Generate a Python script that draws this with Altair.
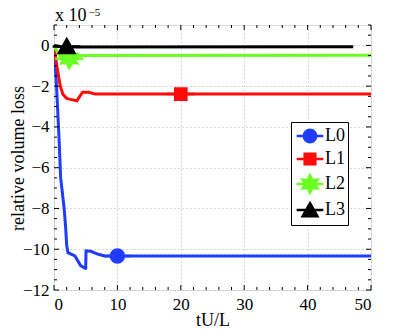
import math
import altair as alt
import pandas as pd

# ---- data ----
t_L0 = [0, 0.4, 0.8, 1.05, 1.6, 1.85, 2.0, 2.2, 3.3, 4.2, 4.9, 5.0, 5.05, 5.8, 7, 8, 50]
y_L0 = [0, -2.0, -4.6, -6.5, -8.0, -9.0, -9.8, -10.17, -10.33, -10.8, -10.93, -10.93, -10.08, -10.1, -10.25, -10.33, -10.33]

t_L1 = [0, 0.3, 0.6, 1.0, 1.4, 2.0, 2.6, 3.6, 4.5, 5.5, 6.5, 50]
y_L1 = [0, -0.7, -1.3, -2.0, -2.4, -2.6, -2.65, -2.72, -2.3, -2.3, -2.39, -2.39]

t_L2 = [0, 0.5, 1.0, 2.0, 3.0, 4.0, 6.0, 50]
y_L2 = [0, -0.3, -0.55, -0.7, -0.62, -0.5, -0.5, -0.48]

t_L3 = [0, 1.0, 2.0, 47.2]
y_L3 = [0, -0.05, -0.08, -0.07]

series = ["L0", "L1", "L2", "L3"]
colors = ["#1f3cff", "#ff0a0a", "#6cff22", "#000000"]
marker_t = [10, 20, 2.4, 2.0]
marker_y = [-10.33, -2.39, -0.65, -0.05]

x_major = [0, 10, 20, 30, 40, 50]
x_minor = [v for v in range(0, 51, 2) if v % 10 != 0]
y_major = [-12, -10, -8, -6, -4, -2, 0]
y_minor = [v / 2 for v in range(-24, 3) if v % 4 != 0]

W, H = 317, 265
FONT = "Liberation Serif"

rows = []
for s, ts, ys in [("L0", t_L0, y_L0), ("L1", t_L1, y_L1), ("L2", t_L2, y_L2), ("L3", t_L3, y_L3)]:
    for i, (t, y) in enumerate(zip(ts, ys)):
        rows.append({"series": s, "t": t, "y": y, "i": i})
lines_df = pd.DataFrame(rows)
pts_df = pd.DataFrame({"series": series, "t": marker_t, "y": marker_y})

# legend-style symbols: line segment + marker (unit coordinates)
seg = "M-1.37,0L1.37,0"
circle = "M0.636,0A0.636,0.636 0 1,1 -0.636,0A0.636,0.636 0 1,1 0.636,0Z"
square = "M-0.544,-0.544L0.544,-0.544L0.544,0.544L-0.544,0.544Z"
star_pts = []
for k in range(12):
    ang = math.radians(-90 + k * 30)
    r = 0.9 if k % 2 == 0 else 0.48
    star_pts.append(f"{r*math.cos(ang):.3f},{r*math.sin(ang):.3f}")
star = "M" + "L".join(star_pts) + "Z"
tri = "M0,-0.7L0.76,0.64L-0.76,0.64Z"
shapes = [seg + circle, seg + square, seg + star, seg + tri]

xs = alt.Scale(domain=[0, 50], nice=False)
ys = alt.Scale(domain=[-12, 1], nice=False)
cscale = alt.Scale(domain=series, range=colors)

x_axis = alt.Axis(values=x_major, grid=True, gridDash=[1, 3], gridColor="#b0b0b0",
                  ticks=False, domain=False, labelFont=FONT, labelFontSize=17,
                  labelPadding=6, title="tU/L", titleFont=FONT, titleFontSize=18,
                  titleFontWeight="normal", titleBaseline="alphabetic", titleY=35)
y_axis = alt.Axis(values=y_major, grid=True, gridDash=[1, 3], gridColor="#b0b0b0",
                  ticks=False, domain=False, labelFont=FONT, labelFontSize=17,
                  labelPadding=5, title="relative volume loss", titleFont=FONT,
                  titleFontSize=18, titleFontWeight="normal", titleX=-36, titleY=133,
                  titleAlign="center", titleBaseline="middle", titleAngle=270)

legend = alt.Legend(title=None, orient="none", legendX=237, legendY=97,
                    strokeColor="black", fillColor="white", padding=3, rowPadding=0,
                    symbolSize=380, symbolStrokeWidth=2.5, symbolOffset=5,
                    labelFont=FONT, labelFontSize=18, labelOffset=4, cornerRadius=0)

lines = alt.Chart(lines_df).mark_line(strokeWidth=3, clip=True).encode(
    x=alt.X("t:Q", scale=xs, axis=x_axis),
    y=alt.Y("y:Q", scale=ys, axis=y_axis),
    color=alt.Color("series:N", scale=cscale, legend=legend),
    order="i:Q",
    detail="series:N",
)

points = alt.Chart(pts_df).mark_point(filled=True, size=420, strokeWidth=2.5, opacity=1).encode(
    x=alt.X("t:Q", scale=xs),
    y=alt.Y("y:Q", scale=ys),
    color=alt.Color("series:N", scale=cscale, legend=legend),
    stroke=alt.Stroke("series:N", scale=cscale, legend=legend),
    shape=alt.Shape("series:N", scale=alt.Scale(domain=series, range=shapes), legend=legend),
)

def xticks(vals, length):
    d = pd.DataFrame({"v": vals})
    b = alt.Chart(d).mark_rule(color="black", strokeWidth=1).encode(
        x=alt.X("v:Q", scale=xs), y=alt.value(H), y2=alt.value(H - length))
    t = alt.Chart(d).mark_rule(color="black", strokeWidth=1).encode(
        x=alt.X("v:Q", scale=xs), y=alt.value(0), y2=alt.value(length))
    return [b, t]

def yticks(vals, length):
    d = pd.DataFrame({"v": vals})
    l = alt.Chart(d).mark_rule(color="black", strokeWidth=1).encode(
        y=alt.Y("v:Q", scale=ys), x=alt.value(0), x2=alt.value(length))
    r = alt.Chart(d).mark_rule(color="black", strokeWidth=1).encode(
        y=alt.Y("v:Q", scale=ys), x=alt.value(W), x2=alt.value(W - length))
    return [l, r]

tick_layers = xticks(x_major, 5) + xticks(x_minor, 3) + yticks(y_major, 5) + yticks(y_minor, 3)

exp_df = pd.DataFrame({"a": ["x 10"], "b": ["\u22125"]})
exp_main = alt.Chart(exp_df).mark_text(font=FONT, fontSize=18, align="left",
                                       baseline="alphabetic", color="black").encode(
    text="a:N", x=alt.value(1), y=alt.value(-4))
exp_sup = alt.Chart(exp_df).mark_text(font=FONT, fontSize=11, align="left",
                                      baseline="alphabetic", color="black").encode(
    text="b:N", x=alt.value(34.5), y=alt.value(-9))

chart = alt.layer(lines, *tick_layers, points, exp_main, exp_sup).properties(
    width=W, height=H,
    autosize=alt.AutoSizeParams(type="none"),
    padding={"left": 46, "top": 17, "right": 30, "bottom": 38},
).configure_view(stroke="black", strokeWidth=1).configure(background="white")

chart.save("out.html", embed_options={"renderer": "svg", "actions": False})
